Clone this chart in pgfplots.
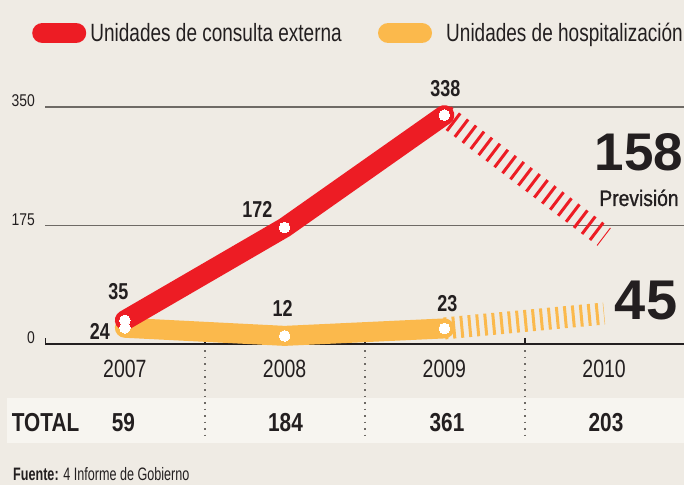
\documentclass[border=0pt]{standalone}
\usepackage{pgfplots}
\pgfplotsset{compat=1.18}
\usepackage{fontspec}
\setmainfont{Liberation Sans}
\newfontfamily\legfont[FakeStretch=0.76]{Liberation Sans}
\newfontfamily\yearfont[FakeStretch=0.78]{Liberation Sans}
\newfontfamily\ytfont[FakeStretch=0.82]{Liberation Sans}
\newfontfamily\lblfont[FakeStretch=0.78]{Liberation Sans}
\newfontfamily\totfont[FakeStretch=0.8]{Liberation Sans}
\newfontfamily\srcfont[FakeStretch=0.7]{Liberation Sans}
\newfontfamily\prevfont[FakeStretch=0.86,FakeBold=1]{Liberation Sans}
\definecolor{bg}{HTML}{EFEBE4}
\definecolor{band}{HTML}{F7F5F0}
\definecolor{cred}{HTML}{ED1C24}
\definecolor{corange}{HTML}{FBB94C}
\definecolor{ink}{HTML}{231F20}
\definecolor{gridc}{HTML}{6E6A65}
\tikzset{lbl/.style={font=\lblfont\bfseries\fontsize{23}{23}\selectfont, text=ink, inner sep=0pt}}
\begin{document}
\begin{tikzpicture}
\useasboundingbox (0,0) rectangle (684pt,485pt);
\fill[bg] (0,0) rectangle (684pt,485pt);
\fill[band] (7pt,42pt) rectangle (684pt,87pt);
% dotted separators
\foreach \xx in {205,365,525} {
  \draw[gridc, line width=1.2pt, dash pattern=on 1.5pt off 5pt] (\xx pt,135pt) -- (\xx pt,45pt);
  \draw[ink, line width=1.1pt] (\xx pt,141pt) -- (\xx pt,147pt);
}
\draw[ink, line width=1.1pt] (45.5pt,141pt) -- (45.5pt,147pt);
\begin{axis}[
  at={(45pt,141pt)}, anchor=south west,
  scale only axis, width=639pt, height=237pt,
  xmin=-0.5, xmax=3.5, ymin=0, ymax=350,
  clip=false,
  axis line style={draw=none},
  xtick={0,1,2,3}, xticklabels={2007,2008,2009,2010},
  xtick style={draw=none},
  xticklabel style={font=\yearfont\fontsize{25}{25}\selectfont, text=ink, anchor=base, yshift=-33pt},
  ytick={175,350}, yticklabels={175,350},
  extra y ticks={0}, extra y tick labels={0},
  extra y tick style={grid style={ink, line width=1.5pt}},
  ytick style={draw=none},
  ymajorgrids, grid style={gridc, line width=1.2pt},
  yticklabel style={font=\ytfont\fontsize{17}{17}\selectfont, text=ink, anchor=south east, inner sep=0pt, xshift=-10pt},
  legend image code/.code={\draw[#1, line width=20.6pt, line cap=round] (10.3pt,0pt) -- (43.7pt,0pt); \path (0pt,-10.3pt) (54pt,10.3pt);},
  legend columns=2,
  legend cell align=left,
  legend style={draw=none, fill=none, at={(axis description cs:-0.0203,1.3122)}, anchor=west,
    inner sep=0pt, outer sep=0pt, font=\legfont\fontsize{25}{25}\selectfont, text=ink,
    nodes={inner xsep=4pt, inner ysep=0pt},
    /tikz/every even column/.append style={column sep=32pt}},
]
\addlegendimage{cred}\addlegendentry{Unidades de consulta externa}
\addlegendimage{corange}\addlegendentry{\hspace{10pt}Unidades de hospitalización}
% projections (hatched)
\addplot[forget plot, cred, line width=22pt, dash pattern=on 3pt off 7pt] coordinates {(2,338) (3,158)};
\addplot[forget plot, corange, line width=22pt, dash pattern=on 3pt off 5pt] coordinates {(2,23) (3,45)};
% hospitalización
\addplot[forget plot, corange, line width=20pt, line cap=round, line join=miter] coordinates {(0,24) (1,12) (2,23)};
\addplot[forget plot, only marks, white, mark=*, mark size=5.3pt, mark options={fill=white, draw=white, line width=0pt}] coordinates {(0,24) (1,12) (2,23)};
% consulta externa
\addplot[forget plot, cred, line width=20pt, line cap=round, line join=round] coordinates {(0,35) (1,172) (2,338)};
\addplot[forget plot, only marks, white, mark=*, mark size=5.3pt, mark options={fill=white, draw=white, line width=0pt}] coordinates {(0,35) (1,172) (2,338)};
% labels
\node[lbl, xshift=-6.5pt, yshift=28.8pt] at (axis cs:0,35) {35};
\node[lbl, xshift=-25pt, yshift=-3.3pt] at (axis cs:0,24) {24};
\node[lbl, xshift=-27.3pt, yshift=18.5pt] at (axis cs:1,172) {172};
\node[lbl, xshift=-2pt, yshift=27.4pt] at (axis cs:1,12) {12};
\node[lbl, xshift=1pt, yshift=27pt] at (axis cs:2,338) {338};
\node[lbl, xshift=3pt, yshift=25pt] at (axis cs:2,23) {23};
\end{axis}
% forecast values
\node[anchor=base, inner sep=0pt, text=ink, font=\bfseries\fontsize{53}{53}\selectfont] at (639pt,314.3pt) {158};
\node[anchor=base, inner sep=0pt, text=ink, font=\prevfont\fontsize{22.4}{22.4}\selectfont] at (639pt,279pt) {Previsión};
\node[anchor=base, inner sep=0pt, text=ink, font=\bfseries\fontsize{56}{56}\selectfont] at (646pt,165.7pt) {45};
% totals
\node[anchor=base west, inner sep=0pt, text=ink, font=\totfont\bfseries\fontsize{26}{26}\selectfont] at (11.7pt,53.3pt) {TOTAL};
\foreach \xx/\tt in {123.5/59,285.5/184,447/361,606/203}
  \node[anchor=base, inner sep=0pt, text=ink, font=\totfont\bfseries\fontsize{26}{26}\selectfont] at (\xx pt,53.3pt) {\tt};
\node[anchor=base west, inner sep=0pt, text=ink, font=\srcfont\fontsize{18}{18}\selectfont] at (13pt,4.3pt) {\bfseries Fuente:\mdseries{} 4 Informe de Gobierno};
\end{tikzpicture}
\end{document}
